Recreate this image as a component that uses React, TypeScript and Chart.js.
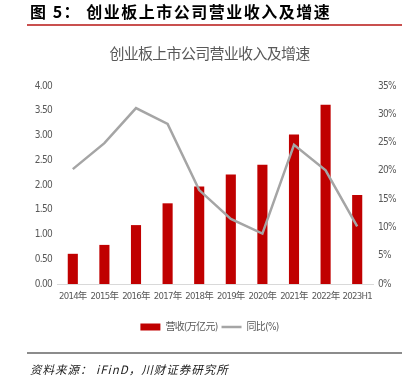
import React, { useEffect, useRef } from "react";
import { Chart, registerables } from "chart.js";

Chart.register(...registerables);

const categories = ["2014年", "2015年", "2016年", "2017年", "2018年", "2019年", "2020年", "2021年", "2022年", "2023H1"];
const revenue = [0.61, 0.79, 1.19, 1.63, 1.97, 2.21, 2.41, 3.02, 3.62, 1.8];
const growth = [20.3, 24.9, 31.1, 28.3, 16.6, 11.5, 8.9, 24.6, 20.1, 10.2];
const revenueLabel = "营收(万亿元)";
const growthLabel = "同比(%)";
const chartTitle = "创业板上市公司营业收入及增速";
const figureTitle = "图 5： 创业板上市公司营业收入及增速";
const sourceText = "资料来源： iFinD，川财证券研究所";

const tickFont = "'DejaVu Sans', 'Noto Sans CJK SC', sans-serif";
const cjkFont = "'Noto Sans CJK SC', sans-serif";
const narrow = "condensed" as any;

const tightText = {
  id: "tightText",
  beforeUpdate(c: any) {
    c.ctx.letterSpacing = "-0.7px";
  },
  beforeDraw(c: any) {
    c.ctx.letterSpacing = "-0.7px";
  },
};

export default function App() {
  const ref = useRef<HTMLCanvasElement>(null);

  useEffect(() => {
    const canvas = ref.current;
    if (!canvas) return;
    const chart = new Chart(canvas, {
      plugins: [tightText],
      data: {
        labels: categories,
        datasets: [
          {
            type: "bar",
            label: revenueLabel,
            data: revenue,
            backgroundColor: "#c00000",
            borderWidth: 0,
            barPercentage: 0.32,
            categoryPercentage: 1,
            yAxisID: "y",
            order: 1,
            pointStyle: "rect",
          } as any,
          {
            type: "line",
            label: growthLabel,
            data: growth,
            borderColor: "#a5a5a5",
            backgroundColor: "#a5a5a5",
            borderWidth: 2.5,
            pointRadius: 0,
            tension: 0,
            yAxisID: "y1",
            order: 0,
            pointStyle: "line",
          } as any,
        ],
      },
      options: {
        responsive: false,
        animation: false,
        layout: { padding: { top: 40, bottom: 44, left: 0, right: 0 } },
        plugins: {
          tooltip: { enabled: false },
          title: {
            display: true,
            text: chartTitle,
            color: "#595959",
            font: { family: cjkFont, size: 15, weight: "normal" },
            padding: { top: 4, bottom: 24 },
          },
          legend: {
            position: "bottom",
            labels: {
              usePointStyle: true,
              pointStyleWidth: 20,
              boxHeight: 7,
              padding: 4,
              color: "#595959",
              font: { family: tickFont, size: 10, weight: narrow },
              sort: (a: any, b: any) => a.datasetIndex - b.datasetIndex,
            },
          },
        },
        scales: {
          x: {
            grid: { display: false, drawTicks: false },
            border: { display: true, color: "#d9d9d9", width: 1 },
            ticks: {
              color: "#595959",
              font: { family: tickFont, size: 9.5, weight: narrow },
              autoSkip: false,
              maxRotation: 0,
              padding: 7,
            },
            afterFit: (s: any) => {
              s.height = 34;
            },
          },
          y: {
            position: "left",
            min: 0,
            max: 4,
            grid: { display: false, drawTicks: false },
            border: { display: false },
            ticks: {
              stepSize: 0.5,
              color: "#595959",
              font: { family: tickFont, size: 10, weight: narrow },
              padding: 5,
              callback: (v: any) => Number(v).toFixed(2),
            },
            afterFit: (s: any) => {
              s.width = 57;
            },
          },
          y1: {
            position: "right",
            min: 0,
            max: 35,
            grid: { display: false, drawTicks: false },
            border: { display: false },
            ticks: {
              stepSize: 5,
              color: "#595959",
              font: { family: tickFont, size: 10, weight: narrow },
              padding: 5,
              callback: (v: any) => `${v}%`,
            },
            afterFit: (s: any) => {
              s.width = 46;
            },
          },
        },
      },
    });
    return () => chart.destroy();
  }, []);

  return (
    <div style={{ position: "fixed", left: 0, top: 0, width: 419, height: 386, background: "#fff", overflow: "hidden" }}>
      <canvas ref={ref} width={419} height={386} style={{ position: "absolute", left: 0, top: 0, width: 419, height: 386 }} />
      <div
        style={{
          position: "absolute",
          left: 30,
          top: 0,
          fontFamily: cjkFont,
          fontWeight: 700,
          fontSize: 16,
          letterSpacing: 1.5,
          color: "#000",
          lineHeight: "22px",
          whiteSpace: "pre",
        }}
      >
        {figureTitle}
      </div>
      <div style={{ position: "absolute", left: 27, top: 24, width: 375, height: 1.5, background: "#c9504f" }} />
      <div style={{ position: "absolute", left: 27, top: 352, width: 375, height: 1.5, background: "#8c8c8c" }} />
      <div
        style={{
          position: "absolute",
          left: 30,
          top: 360,
          fontFamily: cjkFont,
          fontStyle: "italic",
          fontSize: 11.5,
          letterSpacing: 1,
          color: "#222",
          lineHeight: "18px",
          whiteSpace: "pre",
        }}
      >
        {sourceText}
      </div>
    </div>
  );
}
